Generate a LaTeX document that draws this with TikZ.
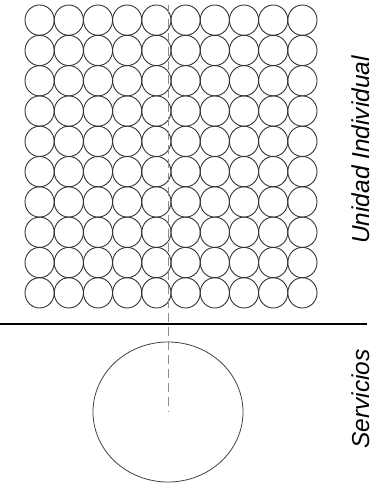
\documentclass[tikz,border=0pt]{standalone}
\usepackage{fontspec}
\setmainfont{Liberation Sans}
\usetikzlibrary{shapes.geometric}
\tikzset{
	cell/.style={draw=black!80, line width=0.9pt, ellipse, minimum width=29.2pt, minimum height=30.3pt, inner sep=0pt},
	bigcell/.style={draw=black!75, line width=0.8pt, ellipse, minimum width=150pt, minimum height=140pt, inner sep=0pt},
	axis/.style={draw=black!45, line width=0.8pt, dash pattern=on 9pt off 5pt},
	divider/.style={draw=black, line width=2pt},
	tag/.style={rotate=90, anchor=base, inner sep=0pt, font=\fontsize{24.5}{29}\selectfont\itshape}
}

\begin{document}
\begin{tikzpicture}[x=1pt, y=-1pt]
	\useasboundingbox (0,0) rectangle (376,494);
	
	% ==========================================
	% Unidad individual: 10 x 10 cells
	% ==========================================
	\foreach \i in {0,...,9}
		\foreach \j in {0,...,9}
			\node[cell] (c-\i-\j) at ({39.6+29.2*\i}, {20.15+30.3*\j}) {};
	
	% --- Servicios ---
	\node[bigcell] (serv) at (168, 412) {};
	
	% Axis through both parts
	\coordinate (top) at (168, 5);
	\draw[axis] (top) -- (serv.center);
	
	% Divider
	\coordinate (divl) at (0, 324);
	\coordinate (divr) at (367, 324);
	\draw[divider] (divl) -- (divr);
	
	% Labels
	\node[tag] (lbl-unit) at (369, 150) {Unidad Individual};
	\node[tag] (lbl-serv) at (369, 399) {Servicios};
	
\end{tikzpicture}
\end{document}
